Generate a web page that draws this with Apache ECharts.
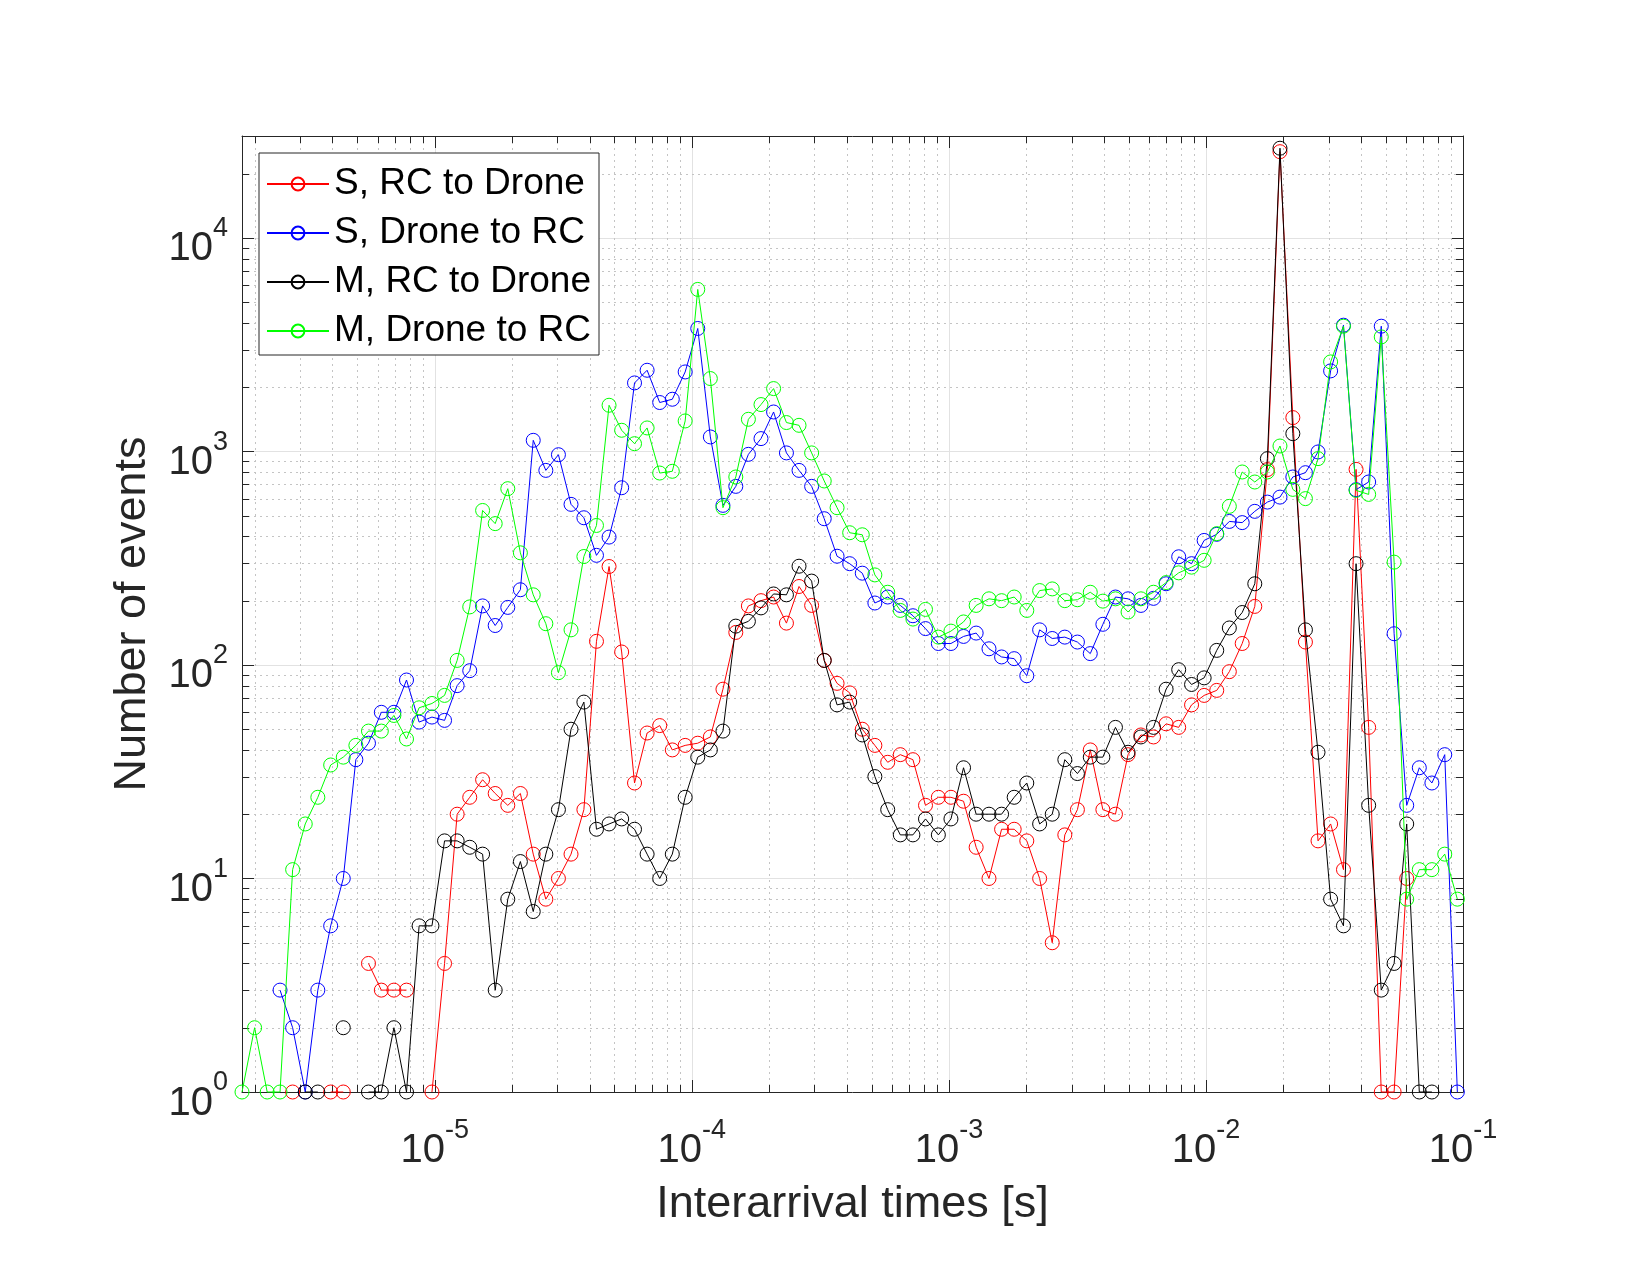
<!DOCTYPE html>
<html>
<head>
<meta charset="utf-8">
<title>Interarrival times</title>
<script src="https://cdn.jsdelivr.net/npm/echarts@6/dist/echarts.min.js"></script>
<style>
html, body { margin: 0; padding: 0; background: #fff; }
#chart { width: 1650px; height: 1275px; }
</style>
</head>
<body>
<div id="chart"></div>
<script>
// bin centres, given as powers of ten (seconds)
var binExp = [
  -5.750, -5.701, -5.652, -5.602, -5.553, -5.504, -5.455, -5.405, -5.356, -5.307,
  -5.258, -5.208, -5.159, -5.110, -5.061, -5.011, -4.962, -4.913, -4.864, -4.814,
  -4.765, -4.716, -4.667, -4.617, -4.568, -4.519, -4.470, -4.420, -4.371, -4.322,
  -4.273, -4.223, -4.174, -4.125, -4.076, -4.026, -3.977, -3.928, -3.879, -3.829,
  -3.780, -3.731, -3.682, -3.632, -3.583, -3.534, -3.485, -3.435, -3.386, -3.337,
  -3.288, -3.238, -3.189, -3.140, -3.091, -3.041, -2.992, -2.943, -2.894, -2.844,
  -2.795, -2.746, -2.697, -2.647, -2.598, -2.549, -2.500, -2.450, -2.401, -2.352,
  -2.303, -2.253, -2.204, -2.155, -2.106, -2.056, -2.007, -1.958, -1.909, -1.859,
  -1.810, -1.761, -1.712, -1.662, -1.613, -1.564, -1.515, -1.465, -1.416, -1.367,
  -1.318, -1.268, -1.219, -1.170, -1.121, -1.071, -1.022
];

// number of events per bin, null = empty bin (not drawn on a log axis)
var sRcToDrone = [
  null, null, null, null, 1, null, null, 1, 1, null,
  4, 3, 3, 3, null, 1, 4, 20, 24, 29,
  25, 22, 25, 13, 8, 10, 13, 21, 129, 289,
  115, 28, 48, 52, 40, 42, 43, 46, 77, 142,
  189, 200, 208, 157, 233, 190, 105, 82, 74, 50,
  42, 35, 38, 36, 22, 24, 24, 23, 14, 10,
  17, 17, 15, 10, 5, 16, 21, 40, 21, 20,
  38, 47, 46, 53, 51, 65, 72, 76, 93, 126,
  188, 822, 25330, 1440, 128, 15, 18, 11, 824, 51,
  1, 1, 10, null, null, null, null
];
var sDroneToRc = [
  null, null, null, 3, 2, 1, 3, 6, 10, 36,
  43, 60, 60, 85, 54, 57, 55, 80, 94, 189,
  153, 186, 225, 1127, 815, 965, 565, 489, 326, 397,
  676, 2093, 2399, 1694, 1755, 2356, 3765, 1169, 559, 686,
  969, 1148, 1530, 984, 815, 686, 484, 323, 298, 269,
  195, 208, 190, 170, 148, 126, 126, 136, 141, 119,
  109, 107, 89, 146, 133, 135, 128, 113, 155, 208,
  204, 190, 205, 240, 321, 298, 383, 409, 470, 464,
  524, 579, 611, 759, 795, 994, 2383, 3900, 662, 719,
  3858, 140, 22, 33, 28, 38, 1
];
var mRcToDrone = [
  null, null, null, null, null, 1, 1, null, 2, null,
  1, 1, 2, 1, 6, 6, 15, 15, 14, 13,
  3, 8, 12, 7, 13, 21, 50, 67, 17, 18,
  19, 17, 13, 10, 13, 24, 37, 40, 49, 152,
  160, 185, 215, 213, 290, 247, 105, 65, 67, 47,
  30, 21, 16, 16, 19, 16, 19, 33, 20, 20,
  20, 24, 28, 18, 20, 36, 31, 37, 37, 51,
  39, 46, 51, 77, 95, 81, 87, 117, 149, 176,
  240, 925, 26300, 1211, 146, 39, 8, 6, 298, 22,
  3, 4, 18, 1, 1, null, null
];
var mDroneToRc = [
  1, 2, 1, 1, 11, 18, 24, 34, 37, 42,
  49, 49, 58, 45, 63, 66, 72, 105, 187, 529,
  459, 669, 335, 213, 156, 92, 146, 322, 450, 1645,
  1256, 1087, 1288, 792, 807, 1389, 5737, 2194, 545, 759,
  1414, 1657, 1969, 1365, 1325, 984, 727, 545, 416, 407,
  264, 219, 180, 164, 182, 135, 144, 159, 190, 204,
  200, 208, 180, 223, 227, 200, 202, 219, 199, 204,
  177, 204, 219, 243, 270, 287, 309, 412, 553, 801,
  719, 801, 1060, 664, 601, 925, 2625, 3858, 657, 629,
  3438, 303, 8, 11, 11, 13, 8
];

var seriesNames = ['S, RC to Drone', 'S, Drone to RC', 'M, RC to Drone', 'M, Drone to RC'];
var seriesColors = ['#ff0000', '#0000ff', '#000000', '#00ff00'];
var seriesValues = [sRcToDrone, sDroneToRc, mRcToDrone, mDroneToRc];

// axis limits and minor tick digits
var xMin = Math.pow(10, -5.75), xMax = 0.1;
var yMin = 1, yMax = 30000;
var minorDigits = [2, 3, 4, 5, 6, 7, 8, 9];

var axisColor = '#262626';
var font = '"Liberation Sans", Arial, Helvetica, sans-serif';

function pairs(vals) {
  return binExp.map(function (e, i) {
    return [Math.pow(10, e), vals[i] == null ? '-' : vals[i]];
  });
}

function minorValues(lo, hi) {
  var out = [];
  for (var e = Math.floor(Math.log10(lo)); e <= Math.ceil(Math.log10(hi)); e++) {
    minorDigits.forEach(function (d) {
      var v = d * Math.pow(10, e);
      if (v > lo * 1.0001 && v < hi * 0.9999) out.push(v);
    });
  }
  return out;
}

function powLabel(value) {
  var e = Math.log10(value);
  if (Math.abs(e - Math.round(e)) > 1e-6) return '';
  return '{b|10}{s|' + Math.round(e) + '}';
}

var tickRich = {
  b: { fontSize: 40, lineHeight: 54, verticalAlign: 'bottom', color: axisColor, fontFamily: font },
  s: { fontSize: 27, lineHeight: 27, verticalAlign: 'top', color: axisColor, fontFamily: font }
};

function crisp(v) { return Math.round(v) + 0.5; }

var chart = echarts.init(document.getElementById('chart'), null, { renderer: 'canvas' });

var lineSeries = seriesNames.map(function (name, i) {
  return {
    name: name,
    type: 'line',
    data: pairs(seriesValues[i]),
    xAxisIndex: 0,
    yAxisIndex: 0,
    symbol: 'circle',
    symbolSize: 14,
    clip: false,
    z: 3 + i,
    lineStyle: { color: seriesColors[i], width: 1 },
    itemStyle: { color: 'transparent', borderColor: seriesColors[i], borderWidth: 1 },
    emphasis: { disabled: true }
  };
});

var minorX = {
  type: 'custom',
  silent: true,
  z: 1,
  xAxisIndex: 0,
  yAxisIndex: 0,
  data: minorValues(xMin, xMax).map(function (v) { return [v, 1]; }),
  encode: { x: 0, y: 1 },
  renderItem: function (params, api) {
    var cs = params.coordSys;
    var px = crisp(api.coord([api.value(0), 1])[0]);
    var top = cs.y, bot = cs.y + cs.height;
    return { type: 'group', children: [
      { type: 'line', shape: { x1: px, y1: top, x2: px, y2: bot },
        style: { stroke: '#c4c4c4', lineWidth: 1, lineDash: [2, 4] } },
      { type: 'line', shape: { x1: px, y1: bot, x2: px, y2: bot - 7 },
        style: { stroke: axisColor, lineWidth: 1 } },
      { type: 'line', shape: { x1: px, y1: top, x2: px, y2: top + 7 },
        style: { stroke: axisColor, lineWidth: 1 } }
    ]};
  }
};

var minorY = {
  type: 'custom',
  silent: true,
  z: 1,
  xAxisIndex: 0,
  yAxisIndex: 0,
  data: minorValues(yMin, yMax).map(function (v) { return [1e-3, v]; }),
  encode: { x: 0, y: 1 },
  renderItem: function (params, api) {
    var cs = params.coordSys;
    var py = crisp(api.coord([1e-3, api.value(1)])[1]);
    var left = cs.x, right = cs.x + cs.width;
    return { type: 'group', children: [
      { type: 'line', shape: { x1: left, y1: py, x2: right, y2: py },
        style: { stroke: '#c4c4c4', lineWidth: 1, lineDash: [2, 4] } },
      { type: 'line', shape: { x1: left, y1: py, x2: left + 7, y2: py },
        style: { stroke: axisColor, lineWidth: 1 } },
      { type: 'line', shape: { x1: right, y1: py, x2: right - 7, y2: py },
        style: { stroke: axisColor, lineWidth: 1 } }
    ]};
  }
};

var baseAxisLine = { show: true, lineStyle: { color: axisColor, width: 1 } };
var baseTick = { show: true, inside: true, length: 12, lineStyle: { color: axisColor, width: 1 } };

var option = {
  animation: false,
  backgroundColor: '#ffffff',
  textStyle: { fontFamily: font },
  grid: {
    left: 242, top: 136, right: 187, bottom: 183,
    containLabel: false,
    outerBoundsMode: 'none'
  },
  legend: {
    orient: 'vertical',
    left: 259,
    top: 153,
    padding: [11, 8, 4, 7],
    itemWidth: 62,
    itemHeight: 16,
    itemGap: 9,
    backgroundColor: '#ffffff',
    borderColor: axisColor,
    borderWidth: 1,
    selectedMode: false,
    textStyle: { fontSize: 37, lineHeight: 40, color: '#000000', fontFamily: font },
    data: seriesNames
  },
  xAxis: [{
    type: 'log',
    logBase: 10,
    min: xMin,
    max: xMax,
    position: 'bottom',
    name: 'Interarrival times [s]',
    nameLocation: 'middle',
    nameGap: 90,
    nameTextStyle: { fontSize: 45, color: axisColor, fontFamily: font },
    axisLine: baseAxisLine,
    axisTick: baseTick,
    axisLabel: { margin: 25, formatter: powLabel, rich: tickRich, showMinLabel: true, showMaxLabel: true },
    splitLine: { show: true, lineStyle: { color: '#e2e2e2', width: 1 } }
  }, {
    type: 'log',
    logBase: 10,
    min: xMin,
    max: xMax,
    position: 'top',
    axisLine: baseAxisLine,
    axisTick: baseTick,
    axisLabel: { show: false },
    splitLine: { show: false }
  }],
  yAxis: [{
    type: 'log',
    logBase: 10,
    min: yMin,
    max: yMax,
    position: 'left',
    name: 'Number of events',
    nameLocation: 'middle',
    nameGap: 87,
    nameTextStyle: { fontSize: 45, color: axisColor, fontFamily: font },
    axisLine: baseAxisLine,
    axisTick: baseTick,
    axisLabel: { margin: 14, formatter: powLabel, rich: tickRich, padding: [9, 0, 0, 0] },
    splitLine: { show: true, lineStyle: { color: '#e2e2e2', width: 1 } }
  }, {
    type: 'log',
    logBase: 10,
    min: yMin,
    max: yMax,
    position: 'right',
    axisLine: baseAxisLine,
    axisTick: baseTick,
    axisLabel: { show: false },
    splitLine: { show: false }
  }],
  series: [minorX, minorY].concat(lineSeries)
};

chart.setOption(option);
</script>
</body>
</html>
